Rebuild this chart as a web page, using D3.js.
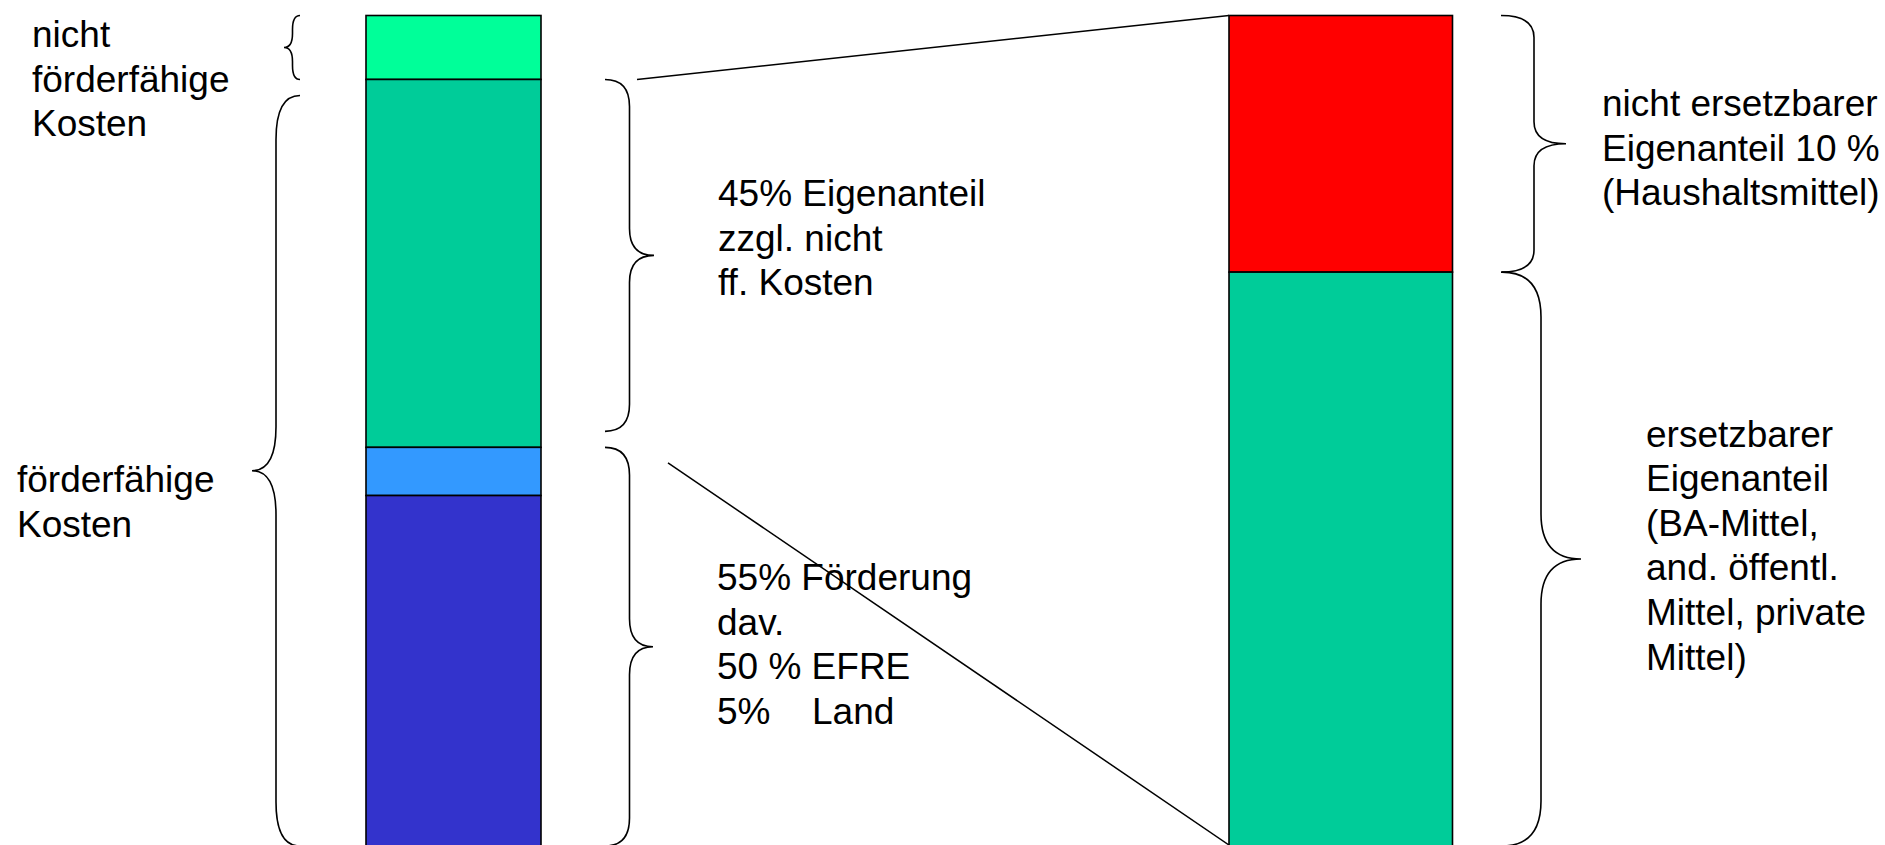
<!DOCTYPE html>
<html>
<head>
<meta charset="utf-8">
<script src="https://cdn.jsdelivr.net/npm/d3@7"></script>
<style>
  html, body { margin: 0; padding: 0; background: #fff; overflow: hidden; }
  svg { display: block; }
  text { font-family: "Liberation Sans", Arial, Helvetica, sans-serif; fill: #000; }
</style>
</head>
<body>
<svg id="chart" width="1885" height="845"></svg>
<script>
// ---------------- DATA ----------------
const leftCategories  = ["nicht förderfähige Kosten", "Eigenanteil", "Land", "EFRE"];
const leftValues      = [7.7, 44.3, 5.8, 42.2];
const rightCategories = ["nicht ersetzbarer Eigenanteil", "ersetzbarer Eigenanteil"];
const rightValues     = [30.9, 69.1];

const labelNichtFF   = ["nicht", "förderfähige", "Kosten"];
const labelFF        = ["förderfähige", "Kosten"];
const labelEigen     = ["45% Eigenanteil", "zzgl. nicht", "ff. Kosten"];
const labelFoerder   = ["55% Förderung", "dav.", "50 % EFRE", ["5%", "Land"]];
const labelNichtErs  = ["nicht ersetzbarer", "Eigenanteil 10 %", "(Haushaltsmittel)"];
const labelErs       = ["ersetzbarer", "Eigenanteil", "(BA-Mittel,", "and. öffentl.", "Mittel, private", "Mittel)"];

// ---------------- STYLE / LAYOUT ----------------
const leftColors  = ["#00FF99", "#00CC99", "#3399FF", "#3333CC"];
const rightColors = ["#FF0000", "#00CC99"];
const fontSize = 37, lineH = 44.6;

const svg = d3.select("#chart");
const y = d3.scaleLinear().domain([0, 100]).range([15.5, 846]);
const xBars = d3.scaleOrdinal().domain(["left", "right"]).range([366, 1229]);
const wBars = { left: 175, right: 223.5 };

function stackOf(vals) {
  const ends = d3.cumsum(vals);
  return vals.map((v, i) => ({ y0: ends[i] - v, y1: ends[i], i }));
}

const leftStack = stackOf(leftValues);
const rightStack = stackOf(rightValues);

// Bars
function drawBar(stack, colors, key) {
  svg.append("g").selectAll("rect").data(stack).join("rect")
    .attr("x", xBars(key))
    .attr("width", wBars[key])
    .attr("y", d => y(d.y0))
    .attr("height", d => y(d.y1) - y(d.y0))
    .attr("fill", d => colors[d.i])
    .attr("stroke", "#000")
    .attr("stroke-width", 1.6);
}
drawBar(leftStack, leftColors, "left");
drawBar(rightStack, rightColors, "right");

// Connector lines
const lines = [
  [[637, y(leftStack[1].y0)], [xBars("right"), y(0)]],
  [[668, y(leftStack[2].y0) + 15.5], [xBars("right"), y(100) - 1]]
];
svg.append("g").selectAll("line").data(lines).join("line")
  .attr("x1", d => d[0][0]).attr("y1", d => d[0][1])
  .attr("x2", d => d[1][0]).attr("y2", d => d[1][1])
  .attr("stroke", "#000").attr("stroke-width", 1.5);

// Braces
function bracePath(xEnd, xSpine, xTip, y0, y1, r) {
  const ym = (y0 + y1) / 2;
  const p = d3.path();
  p.moveTo(xEnd, y0);
  p.quadraticCurveTo(xSpine, y0, xSpine, y0 + r);
  p.lineTo(xSpine, ym - r);
  p.quadraticCurveTo(xSpine, ym, xTip, ym);
  p.quadraticCurveTo(xSpine, ym, xSpine, ym + r);
  p.lineTo(xSpine, y1 - r);
  p.quadraticCurveTo(xSpine, y1, xEnd, y1);
  return p.toString();
}
const braces = [
  { xe: 300, xs: 292.5, xt: 284, y0: y(0), y1: y(leftStack[0].y1), r: 14 },
  { xe: 300, xs: 276, xt: 252, y0: y(leftStack[1].y0) + 16, y1: y(100), r: 44 },
  { xe: 605, xs: 629.5, xt: 654, y0: y(leftStack[1].y0), y1: y(leftStack[1].y1) - 16, r: 27 },
  { xe: 605, xs: 629.5, xt: 653, y0: y(leftStack[2].y0), y1: y(100), r: 28 },
  { xe: 1501, xs: 1534, xt: 1566, y0: y(0), y1: y(rightStack[0].y1), r: 22 },
  { xe: 1502, xs: 1541, xt: 1581, y0: y(rightStack[1].y0), y1: y(100), r: 45 }
];
svg.append("g").selectAll("path").data(braces).join("path")
  .attr("d", d => bracePath(d.xe, d.xs, d.xt, d.y0, d.y1, d.r))
  .attr("fill", "none").attr("stroke", "#000").attr("stroke-width", 1.6);

// Text blocks
function textBlock(lines, x, yBase) {
  const t = svg.append("text").attr("font-size", fontSize);
  lines.forEach((ln, i) => {
    if (Array.isArray(ln)) {
      t.append("tspan").attr("x", x).attr("y", yBase + i * lineH).text(ln[0]);
      t.append("tspan").attr("x", x + 95).attr("y", yBase + i * lineH).text(ln[1]);
    } else {
      t.append("tspan").attr("x", x).attr("y", yBase + i * lineH).text(ln);
    }
  });
  return t;
}
textBlock(labelNichtFF, 32, 47);
textBlock(labelFF, 17, 492);
textBlock(labelEigen, 718, 206);
textBlock(labelFoerder, 717, 590);
textBlock(labelNichtErs, 1602, 116);
textBlock(labelErs, 1646, 446.5);
</script>
</body>
</html>
